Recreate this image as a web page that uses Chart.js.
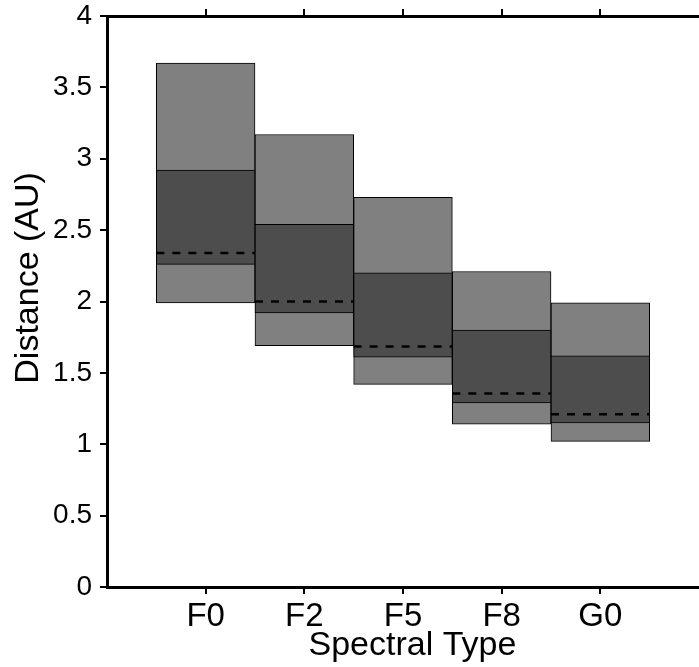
<!DOCTYPE html>
<html lang="en">
<head>
    <meta charset="UTF-8">
    <title>Distance by Spectral Type</title>
    <script src="https://cdn.jsdelivr.net/npm/chart.js"></script>
    <style>
        html, body {
            margin: 0;
            padding: 0;
            background-color: #fff;
            overflow: hidden;
        }
        .chart-container {
            width: 702px;
            height: 667px;
        }
    </style>
</head>
<body>
    <div class="chart-container">
        <canvas id="distanceChart"></canvas>
    </div>

    <script>
        // Spectral types (empty slots pad the axis on both sides)
        const spectralTypes = ['', 'F0', 'F2', 'F5', 'F8', 'G0', ''];

        // Outer (light) box: low and high edge
        const outerLow  = [null, 1.99, 1.69, 1.42, 1.14, 1.02, null];
        const outerHigh = [null, 3.67, 3.17, 2.73, 2.21, 1.99, null];

        // Inner (dark) box: low and high edge
        const innerLow  = [null, 2.26, 1.92, 1.61, 1.29, 1.15, null];
        const innerHigh = [null, 2.92, 2.54, 2.20, 1.80, 1.62, null];

        // Dashed line inside each box
        const dashedValue = [null, 2.34, 2.00, 1.685, 1.355, 1.21, null];

        const fontFamily = '"Liberation Sans", Arial, Helvetica, sans-serif';

        const toRange = (lo, hi) => lo.map((v, i) => v === null ? null : [v, hi[i]]);

        // Draws the dashed marker across each box using the chart scales
        const dashedLinePlugin = {
            id: 'dashedLines',
            afterDatasetsDraw(chart) {
                const ctx = chart.ctx;
                const xScale = chart.scales.x;
                const yScale = chart.scales.y;
                const meta = chart.getDatasetMeta(0);
                ctx.save();
                ctx.strokeStyle = '#000';
                ctx.lineWidth = 2.5;
                ctx.setLineDash([8, 8]);
                dashedValue.forEach((v, i) => {
                    if (v === null) return;
                    const half = meta.data[i].width / 2;
                    const cx = xScale.getPixelForValue(i);
                    const y = yScale.getPixelForValue(v);
                    ctx.beginPath();
                    ctx.moveTo(cx - half, y);
                    ctx.lineTo(cx + half, y);
                    ctx.stroke();
                });
                ctx.restore();
            }
        };

        const hideEnds = (context) => spectralTypes[context.index] ? '#000' : 'rgba(0,0,0,0)';

        const tickGrid = {
            drawOnChartArea: false,
            drawTicks: true,
            offset: false,
            tickLength: 7,
            color: hideEnds,
            lineWidth: 2
        };

        new Chart(document.getElementById('distanceChart'), {
            type: 'bar',
            data: {
                labels: spectralTypes,
                datasets: [
                    {
                        label: 'Outer',
                        data: toRange(outerLow, outerHigh),
                        backgroundColor: '#808080',
                        borderColor: '#000',
                        borderWidth: 1,
                        borderSkipped: false,
                        grouped: false,
                        order: 2,
                        barPercentage: 1,
                        categoryPercentage: 1
                    },
                    {
                        label: 'Inner',
                        data: toRange(innerLow, innerHigh),
                        backgroundColor: '#4d4d4d',
                        borderColor: '#000',
                        borderWidth: 1,
                        borderSkipped: false,
                        grouped: false,
                        order: 1,
                        barPercentage: 1,
                        categoryPercentage: 1
                    }
                ]
            },
            options: {
                responsive: true,
                maintainAspectRatio: false,
                animation: false,
                layout: { padding: 0 },
                plugins: {
                    legend: { display: false },
                    tooltip: { enabled: false }
                },
                scales: {
                    x: {
                        type: 'category',
                        position: 'bottom',
                        offset: false,
                        border: { display: true, color: '#000', width: 3 },
                        grid: tickGrid,
                        ticks: {
                            color: '#000',
                            font: { family: fontFamily, size: 33 },
                            padding: 3,
                            maxRotation: 0,
                            autoSkip: false
                        },
                        title: {
                            display: true,
                            // leading spaces nudge the centred title to the right
                            text: '  Spectral Type',
                            color: '#000',
                            font: { family: fontFamily, size: 34 },
                            padding: { top: 0, bottom: 1 }
                        },
                        afterFit(scale) { scale.height = 80; }
                    },
                    xTop: {
                        type: 'category',
                        position: 'top',
                        labels: spectralTypes,
                        offset: false,
                        border: { display: true, color: '#000', width: 3 },
                        grid: tickGrid,
                        ticks: { display: false },
                        afterFit(scale) { scale.height = 16; }
                    },
                    y: {
                        min: 0,
                        max: 4,
                        border: { display: true, color: '#000', width: 3 },
                        grid: {
                            drawOnChartArea: false,
                            drawTicks: true,
                            tickLength: 7,
                            color: '#000',
                            lineWidth: 2
                        },
                        ticks: {
                            stepSize: 0.5,
                            color: '#000',
                            font: { family: fontFamily, size: 28 },
                            padding: 8,
                            callback: (value) => String(value)
                        },
                        title: {
                            display: true,
                            // leading spaces lift the rotated title a little
                            text: '     Distance (AU)',
                            color: '#000',
                            font: { family: fontFamily, size: 34 },
                            padding: { top: 8, bottom: 0 }
                        },
                        afterFit(scale) {
                            scale.width = 107;
                            scale.paddingTop = 0;
                            scale.paddingBottom = 0;
                        }
                    }
                }
            },
            plugins: [dashedLinePlugin]
        });
    </script>
</body>
</html>
